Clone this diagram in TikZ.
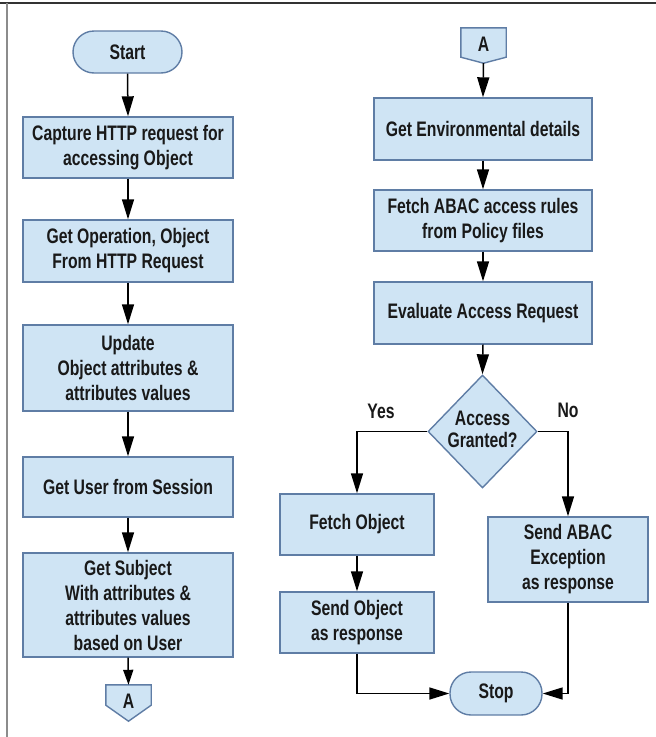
\documentclass[tikz,border=0pt]{standalone}
\usepackage{fontspec}
\setmainfont{Liberation Sans}[FakeStretch=0.75]
\usetikzlibrary{shapes.geometric,arrows.meta,calc,backgrounds}
\definecolor{boxfill}{RGB}{207,228,244}
\definecolor{boxline}{RGB}{95,125,165}
\definecolor{txt}{RGB}{25,25,25}
\begin{document}
\begin{tikzpicture}[x=1pt,y=-1pt,
  font=\fontsize{21}{25}\selectfont\bfseries,
  proc/.style 2 args={rectangle,draw=boxline,fill=boxfill,line width=1.4pt,
    minimum width=#1,minimum height=#2,inner sep=0pt,align=center,text=txt},
  term/.style={rectangle,rounded corners=21pt,draw=boxline,fill=boxfill,line width=1.4pt,
    inner sep=0pt,align=center,text=txt},
  conn/.style={draw=boxline,fill=boxfill,line width=1.4pt},
  arr/.style={draw=black,line width=1.5pt,-{Triangle[length=20pt,width=12pt]}},
  arrs/.style={draw=black,line width=1.5pt,-{Triangle[length=15pt,width=10pt]}},
  lbl/.style={text=txt}]
\useasboundingbox (0,0) rectangle (656,737);
\draw[line width=2pt,black!80] (0,3) -- (656,3);
\draw[line width=1.5pt,black!45] (7,3) -- (7,737);

% left column
\node[term,minimum width=109pt,minimum height=42pt] (start) at (127.5,52) {Start};
\node[proc={210pt}{61pt}] (cap) at (128,147.5) {Capture HTTP request for\\accessing Object};
\node[proc={210pt}{62pt}] (op) at (128,251) {Get Operation, Object\\From HTTP Request};
\node[proc={210pt}{86pt}] (upd) at (128,368) {Update\\Object attributes \&\\attributes values};
\node[proc={210pt}{60pt}] (usr) at (128,487) {Get User from Session};
\node[proc={210pt}{104pt}] (subj) at (128,605) {Get Subject\\With attributes \&\\attributes values\\based on User};
\node[inner sep=0pt,minimum width=45pt,minimum height=36pt,text=txt] (aout) at (128.5,703) {\raisebox{3pt}{A}};
\begin{scope}[on background layer]
\draw[conn] (aout.north west) -- (aout.north east) -- ([yshift=16pt]aout.south east)
  -- (aout.south) -- ([yshift=16pt]aout.south west) -- cycle;
\end{scope}

% right column
\node[inner sep=0pt,minimum width=45pt,minimum height=35pt,text=txt] (ain) at (483.5,45.5) {\raisebox{2pt}{A}};
\begin{scope}[on background layer]
\draw[conn] (ain.north west) -- (ain.north east) -- ([yshift=6pt]ain.south east)
  -- (ain.south) -- ([yshift=6pt]ain.south west) -- cycle;
\end{scope}
\node[proc={218pt}{62pt}] (env) at (483,129) {Get Environmental details};
\node[proc={218pt}{61pt}] (rules) at (483,220.5) {Fetch ABAC access rules\\from Policy files};
\node[proc={218pt}{62pt}] (eval) at (483,313) {Evaluate Access Request};
\node[diamond,draw=boxline,fill=boxfill,line width=1.4pt,minimum width=109pt,minimum height=113pt,
  inner sep=0pt,text=txt] (dec) at (482.5,431.5)
  {\makebox[0pt]{\raisebox{-2pt}{\begin{tabular}{@{}c@{}}Access\\[-3pt]Granted?\end{tabular}}}};
\node[proc={154pt}{61pt}] (fetch) at (357,524.5) {Fetch Object};
\node[proc={154pt}{61pt}] (send) at (357,622.5) {Send Object\\as response};
\node[proc={160pt}{85pt}] (exc) at (568,559.5) {Send ABAC\\Exception\\as response};
\node[term,minimum width=92pt,minimum height=43pt] (stop) at (496,693.5) {Stop};

% connectors
\draw[arr] (start.south) -- (cap.north);
\draw[arr] (cap.south) -- (op.north);
\draw[arr] (op.south) -- (upd.north);
\draw[arr] (upd.south) -- (usr.north);
\draw[arr] (usr.south) -- (subj.north);
\draw[arrs] (subj.south) -- (aout.north);
\draw[arr] (ain.south) -- (env.north);
\draw[arr] (env.south) -- (rules.north);
\draw[arr] (rules.south) -- (eval.north);
\draw[arr] (eval.south) -- (dec.north);
\draw[arr] (dec.west) -| (fetch.north);
\draw[arr] (dec.east) -| (exc.north);
\draw[arr] (fetch.south) -- (send.north);
\draw[arr] (send.south) |- (stop.west);
\draw[arr] (exc.south) |- (stop.east);
\node[lbl] (yes) at (381,411) {Yes};
\node[lbl] (no) at (568,410) {No};
\end{tikzpicture}
\end{document}
